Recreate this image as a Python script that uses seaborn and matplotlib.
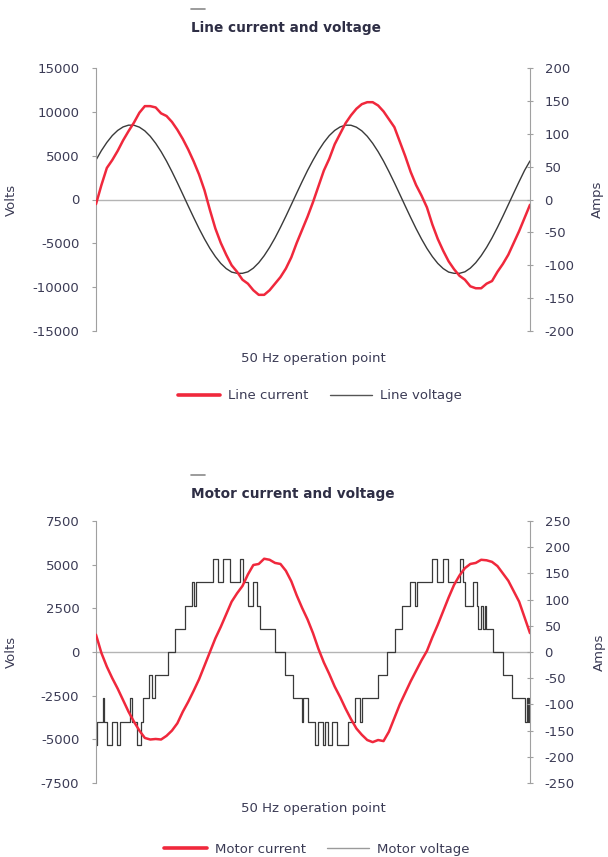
import numpy as np
import pandas as pd
import seaborn as sns
import matplotlib
matplotlib.use('Agg')
import matplotlib.pyplot as plt
from matplotlib.lines import Line2D


# sample times in ms, 0.5 ms apart, two 50 Hz cycles
t_ms = np.arange(0, 40.5, 0.5)

line_current = [-7, 22, 48, 60, 74, 90, 104, 117, 132, 142, 142,
                140, 131, 127, 118, 106, 92, 76, 58, 38, 14,
                -16, -44, -66, -84, -100, -110, -122, -128, -138, -145,
                -145, -138, -128, -118, -105, -88, -66, -46, -26, -4,
                20, 44, 62, 84, 100, 116, 128, 138, 145, 148,
                148, 143, 134, 122, 110, 88, 66, 42, 22, 6,
                -12, -38, -60, -78, -94, -106, -116, -122, -132, -135,
                -135, -128, -124, -110, -98, -84, -66, -48, -28, -8]

line_voltage = [4500, 5580, 6510, 7290, 7880, 8280, 8480, 8470, 8250, 7830,
                7210, 6410, 5460, 4380, 3180, 1910, 590, -740, -2050, -3320,
                -4500, -5580, -6510, -7290, -7880, -8280, -8420, -8420, -8250, -7830,
                -7210, -6410, -5460, -4380, -3180, -1910, -590, 740, 2050, 3320,
                4480, 5560, 6500, 7290, 7880, 8280, 8480, 8470, 8250, 7830,
                7210, 6410, 5460, 4380, 3180, 1910, 590, -740, -2050, -3320,
                -4500, -5580, -6510, -7290, -7880, -8280, -8420, -8420, -8250, -7830,
                -7210, -6410, -5460, -4380, -3180, -1910, -590, 740, 2050, 3320,
                4400]

motor_current = [33, -2, -28, -50, -70, -92, -114, -133, -150, -164,
                 -167, -166, -167, -160, -150, -136, -114, -95, -74, -52,
                 -26, 0, 26, 48, 72, 96, 112, 126, 148, 166,
                 168, 178, 176, 170, 168, 155, 135, 108, 84, 62,
                 36, 6, -20, -42, -66, -86, -108, -128, -146, -158,
                 -168, -172, -168, -170, -152, -126, -100, -78, -56, -36,
                 -16, 2, 28, 52, 78, 104, 128, 146, 160, 168,
                 170, 176, 175, 172, 164, 150, 136, 116, 96, 66,
                 36]

# inverter output: switching instants (ms) and the level held after each
motor_v_time = [0.00, 0.12, 0.62, 0.74, 0.99, 1.45, 1.91, 2.21, 3.13, 3.32,
                3.75, 4.12, 4.36, 4.91, 5.13, 5.44, 6.66, 7.28, 8.20, 8.82,
                9.03, 9.22, 10.81, 11.27, 11.73, 12.35, 13.27, 13.58, 14.04, 14.50,
                14.81, 15.12, 16.50, 17.42, 18.18, 18.96, 19.11, 19.57, 20.18, 20.49,
                20.95, 21.11, 21.41, 21.72, 22.18, 23.25, 23.87, 24.33, 24.49, 26.02,
                26.79, 27.56, 28.18, 28.94, 29.40, 29.56, 30.94, 31.40, 32.01, 32.47,
                33.55, 33.85, 34.01, 34.77, 35.09, 35.23, 35.48, 35.69, 35.85, 35.99,
                36.62, 37.51, 38.31, 39.54, 39.68, 39.77, 39.86, 39.95, 40.00]
motor_v_level = [-5320, -3990, -2660, -3990, -5320, -3990, -5320, -3990, -2660, -3990,
                 -5320, -3990, -2660, -1330, -2660, -1330, 0, 1330, 2660, 3990,
                 2660, 3990, 5320, 3990, 5320, 3990, 5320, 3990, 2660, 3990,
                 2660, 1330, 0, -1330, -2660, -3990, -2660, -3990, -5320, -3990,
                 -5320, -3990, -5320, -3990, -5320, -3990, -2660, -3990, -2660, -1330,
                 0, 1330, 2660, 3990, 2660, 3990, 5320, 3990, 5320, 3990,
                 5320, 3990, 2660, 3990, 2660, 1330, 2660, 1330, 2660, 1330,
                 0, -1330, -2660, -3990, -2660, -3990, -2660, -3990, -3990]

RED = '#f0283c'
TXT = '#3b3b55'
AXC = '#a0a0a0'

sns.set_style('white')
plt.rcParams['font.family'] = ['DejaVu Sans']
plt.rcParams['axes.unicode_minus'] = False

fig = plt.figure(figsize=(6.08, 8.57), dpi=100)
W, H = 608, 857


def panel(top, bottom, vlim, vstep, alim, astep):
    ax = fig.add_axes([96 / W, 1 - bottom / H, 434 / W, (bottom - top) / H])
    ax2 = ax.twinx()
    ax.set_xlim(0, 40)
    ax.set_ylim(-vlim, vlim)
    ax2.set_ylim(-alim, alim)
    ax.set_yticks(np.arange(-vlim, vlim + 1, vstep))
    ax2.set_yticks(np.arange(-alim, alim + 1, astep))
    ax.set_xticks([])
    for a in (ax, ax2):
        for s in ('top', 'bottom', 'left', 'right'):
            a.spines[s].set_visible(False)
    ax.spines['left'].set_visible(True)
    ax.spines['left'].set_color(AXC)
    ax2.spines['right'].set_visible(True)
    ax2.spines['right'].set_color(AXC)
    ax.tick_params(axis='y', direction='out', length=3, color=AXC,
                   labelsize=9.5, labelcolor=TXT, pad=9, left=True)
    ax2.tick_params(axis='y', direction='inout', length=5, color=AXC,
                    labelsize=9.5, labelcolor=TXT, pad=8, right=True)
    ax.axhline(0, color='#b4b4b4', lw=1, zorder=0)
    ax.set_ylabel('Volts', fontsize=9.5, color=TXT)
    ax2.set_ylabel('Amps', fontsize=9.5, color=TXT)
    ax.set_xlabel('50 Hz operation point', fontsize=9.5, color=TXT)
    return ax, ax2


def heading(y, text):
    fig.add_artist(Line2D([191 / W, 205 / W], [1 - (y - 19) / H] * 2,
                          color='#8a8a8a', lw=1.2))
    fig.text(191 / W, 1 - y / H, text, fontsize=9.8, fontweight='bold',
             color='#2e2e45', va='center', ha='left')


# top: line side
ax, ax2 = panel(68, 331, 15000, 5000, 200, 50)
line_df = pd.DataFrame({'t': t_ms, 'voltage': line_voltage, 'current': line_current})
sns.lineplot(data=line_df, x='t', y='voltage', ax=ax, color='#3a3a3a', lw=1.0,
             estimator=None)
sns.lineplot(data=line_df, x='t', y='current', ax=ax2, color=RED, lw=1.8,
             estimator=None)
ax.set_xlabel('50 Hz operation point')
ax.xaxis.set_label_coords(0.5, -0.08)
ax.yaxis.set_label_coords(-0.18, 0.5)
ax2.set_ylabel('Amps')
ax2.yaxis.set_label_coords(1.14, 0.5)
handles = [Line2D([], [], color=RED, lw=2.6), Line2D([], [], color='#555555', lw=1.0)]
ax.legend(handles, ['Line current', 'Line voltage'], loc='center',
          bbox_to_anchor=(0.516, -0.247), ncol=2, frameon=False, fontsize=9.5,
          labelcolor=TXT, handlelength=3.2, columnspacing=1.6, handletextpad=0.6)
heading(28, 'Line current and voltage')

# bottom: motor side
bx, bx2 = panel(521, 783, 7500, 2500, 250, 50)
motor_df = pd.DataFrame({'t': motor_v_time, 'voltage': motor_v_level})
cur_df = pd.DataFrame({'t': t_ms, 'current': motor_current})
sns.lineplot(data=motor_df, x='t', y='voltage', ax=bx, color='#3a3a3a', lw=0.9,
             estimator=None, drawstyle='steps-post')
sns.lineplot(data=cur_df, x='t', y='current', ax=bx2, color=RED, lw=1.8,
             estimator=None)
bx.set_xlabel('50 Hz operation point')
bx.xaxis.set_label_coords(0.5, -0.073)
bx.yaxis.set_label_coords(-0.18, 0.5)
bx2.set_ylabel('Amps')
bx2.yaxis.set_label_coords(1.145, 0.5)
handles = [Line2D([], [], color=RED, lw=2.6), Line2D([], [], color='#9a9a9a', lw=1.0)]
bx.legend(handles, ['Motor current', 'Motor voltage'], loc='center',
          bbox_to_anchor=(0.509, -0.252), ncol=2, frameon=False, fontsize=9.5,
          labelcolor=TXT, handlelength=3.2, columnspacing=1.6, handletextpad=0.6)
heading(494, 'Motor current and voltage')

fig.savefig('out.png', dpi=100)
